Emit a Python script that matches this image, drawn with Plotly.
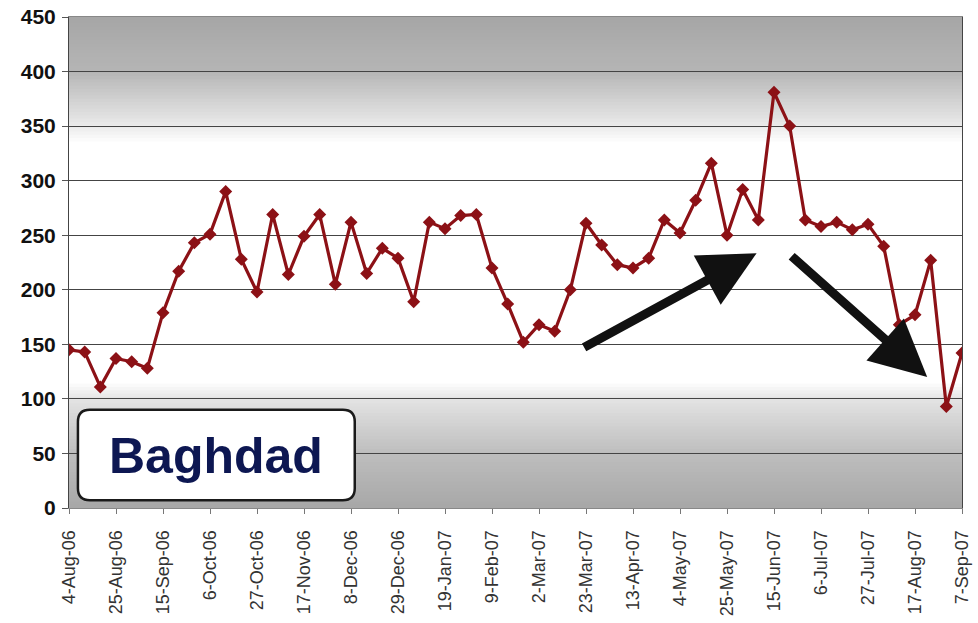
import numpy as np
import pandas as pd
import plotly.graph_objects as go

# weekly counts, Baghdad
dates = pd.date_range("2006-08-04", periods=58, freq="7D")
counts = [145, 143, 111, 137, 134, 128, 179, 217, 243, 251,
          290, 228, 198, 269, 214, 249, 269, 205, 262, 215,
          238, 229, 189, 262, 256, 268, 269, 220, 187, 152,
          168, 162, 200, 261, 241, 223, 220, 229, 264, 252,
          282, 316, 250, 292, 264, 381, 350, 264, 258, 262,
          255, 260, 240, 168, 177, 227, 93, 142]

tick_labels = ["4-Aug-06", "25-Aug-06", "15-Sep-06", "6-Oct-06", "27-Oct-06",
               "17-Nov-06", "8-Dec-06", "29-Dec-06", "19-Jan-07", "9-Feb-07",
               "2-Mar-07", "23-Mar-07", "13-Apr-07", "4-May-07", "25-May-07",
               "15-Jun-07", "6-Jul-07", "27-Jul-07", "17-Aug-07", "7-Sep-07"]
tick_dates = dates[::3]

fig = go.Figure()

# grey gradient background (top and bottom), white in the middle
stops_v = [0, 50, 100, 115, 335, 350, 400, 450]
stops_g = [168, 190, 228, 255, 255, 235, 182, 166]
shapes = []
for y0 in np.arange(0, 450, 3):
    g = int(np.interp(y0 + 1.5, stops_v, stops_g))
    shapes.append(dict(type="rect", xref="paper", yref="y", x0=0, x1=1, y0=y0, y1=min(y0 + 4, 450),
                       fillcolor="rgb(%d,%d,%d)" % (g, g, g), line=dict(width=0), layer="below"))

# rounded label box
rx, ry = 0.0134, 0.0244
bx0, bx1, by0, by1 = 0.010, 0.320, 0.016, 0.200
path = ("M %f,%f L %f,%f Q %f,%f %f,%f L %f,%f Q %f,%f %f,%f L %f,%f Q %f,%f %f,%f L %f,%f Q %f,%f %f,%f Z" %
        (bx0 + rx, by0, bx1 - rx, by0, bx1, by0, bx1, by0 + ry, bx1, by1 - ry, bx1, by1, bx1 - rx, by1,
         bx0 + rx, by1, bx0, by1, bx0, by1 - ry, bx0, by0 + ry, bx0, by0, bx0 + rx, by0))
shapes.append(dict(type="path", xref="paper", yref="paper", path=path,
                   fillcolor="white", line=dict(color="#1a1a1a", width=2.5), layer="above"))

fig.add_trace(go.Scatter(x=dates, y=counts, mode="lines+markers",
                         line=dict(color="#8c1116", width=3.2),
                         marker=dict(symbol="diamond", size=10, color="#8c1116"),
                         showlegend=False))

fig.update_layout(
    width=978, height=623,
    margin=dict(l=69, r=16, t=17, b=115),
    paper_bgcolor="white", plot_bgcolor="white",
    shapes=shapes,
    annotations=[
        dict(text="<b>Baghdad</b>", xref="paper", yref="paper", x=0.165, y=0.106,
             xanchor="center", yanchor="middle",
             showarrow=False, font=dict(family="Liberation Sans", size=50, color="#0d1752")),
        dict(xref="paper", yref="paper", x=0.770, y=0.519, ax=-174, ay=95, text="",
             showarrow=True, arrowhead=2, arrowsize=1.25, arrowwidth=9, arrowcolor="#111111"),
        dict(xref="paper", yref="paper", x=0.961, y=0.267, ax=-137, ay=-122, text="",
             showarrow=True, arrowhead=2, arrowsize=1.25, arrowwidth=9, arrowcolor="#111111"),
    ],
    xaxis=dict(range=[dates[0], dates[-1]], tickvals=tick_dates, ticktext=tick_labels,
               tickangle=-90, showgrid=False, ticks="outside", ticklen=5, tickcolor="#777",
               ticklabelstandoff=9,
               tickfont=dict(family="Liberation Sans", size=18, color="#333"), automargin=False,
               showline=True, linecolor="#888", linewidth=1, mirror=True, zeroline=False),
    yaxis=dict(range=[0, 450], dtick=50, showgrid=True, gridcolor="#444", gridwidth=1,
               ticks="outside", ticklen=6, tickcolor="#555", ticklabelstandoff=2, automargin=False,
               tickfont=dict(family="Liberation Sans", size=21, color="#111", weight="bold"),
               showline=True, linecolor="#444", linewidth=1, mirror=True, zeroline=False),
)

# drop the default body margin so the figure sits at the window corner
fig.write_html("out.html", config={"displayModeBar": False},
               post_script="document.body.style.margin='0';")
